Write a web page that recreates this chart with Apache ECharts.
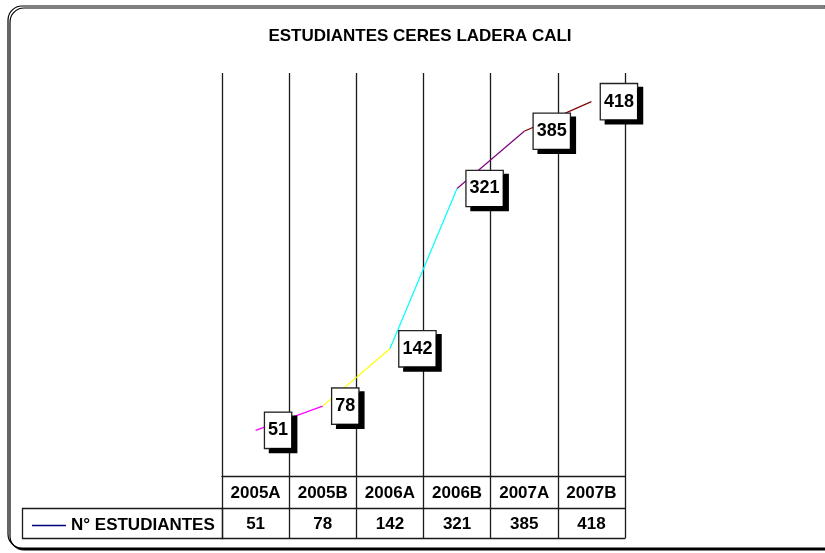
<!DOCTYPE html>
<html>
<head>
<meta charset="utf-8">
<script src="https://cdn.jsdelivr.net/npm/echarts@6/dist/echarts.min.js"></script>
<style>
  html, body { margin: 0; padding: 0; background: #fff; }
  #chart { width: 825px; height: 553px; }
</style>
</head>
<body>
<div id="chart"></div>
<script>
// datos
var categories = ['2005A', '2005B', '2006A', '2006B', '2007A', '2007B'];
var estudiantes = [51, 78, 142, 321, 385, 418];
var segmentColors = ['#ff00ff', '#ffff00', '#00ffff', '#800080', '#800000'];
var seriesName = 'N° ESTUDIANTES';

var FONT = 'Liberation Sans, Arial, sans-serif';
var LINE = { color: '#1a1a1a', width: 1.3 };

var chart = echarts.init(document.getElementById('chart'));

// un tramo por cada par de puntos, con su propio color
var segments = segmentColors.map(function (color, i) {
  var data = estudiantes.map(function (v, j) {
    return (j === i || j === i + 1) ? v : null;
  });
  return {
    type: 'line',
    data: data,
    symbol: 'none',
    silent: true,
    connectNulls: false,
    lineStyle: { color: color, width: 1.2 },
    z: 2
  };
});

var option = {
  animation: false,
  title: {
    text: 'ESTUDIANTES CERES LADERA CALI',
    left: 415,
    top: 23,
    textAlign: 'center',
    textStyle: { fontFamily: FONT, fontSize: 17, fontWeight: 'bold', color: '#000' }
  },
  legend: {
    data: [{ name: seriesName, itemStyle: { color: '#000080', opacity: 1 } }],
    left: 27,
    top: 512,
    icon: 'rect',
    itemWidth: 34,
    itemHeight: 1.5,
    textStyle: { fontFamily: FONT, fontSize: 17, fontWeight: 'bold', color: '#000' }
  },
  graphic: [
    {
      type: 'rect',
      z: -10,
      shape: { x: 8, y: 6, width: 830, height: 542, r: 14 },
      style: { fill: '#fff', stroke: '#000', lineWidth: 1.2, shadowColor: '#000', shadowOffsetX: 2, shadowOffsetY: 2, shadowBlur: 0 }
    },
    {
      type: 'rect',
      z: 5,
      shape: { x: 22.5, y: 508.5, width: 200, height: 30 },
      style: { fill: 'none', stroke: LINE.color, lineWidth: LINE.width }
    }
  ],
  grid: { left: 222, right: 200, top: 73, bottom: 77 },
  xAxis: [
    {
      type: 'category',
      data: categories,
      boundaryGap: true,
      position: 'bottom',
      axisLine: { show: true, lineStyle: LINE },
      axisTick: { show: true, length: 62, lineStyle: LINE },
      axisLabel: { margin: 9, fontFamily: FONT, fontSize: 17, fontWeight: 'bold', color: '#000' },
      splitLine: { show: true, lineStyle: LINE }
    },
    {
      type: 'category',
      data: estudiantes.map(String),
      boundaryGap: true,
      position: 'bottom',
      offset: 32,
      axisLine: { show: true, lineStyle: LINE },
      axisTick: { show: false },
      axisLabel: { margin: 8, fontFamily: FONT, fontSize: 17, fontWeight: 'bold', color: '#000' },
      splitLine: { show: false }
    },
    {
      type: 'category',
      data: categories,
      boundaryGap: true,
      position: 'bottom',
      offset: 62,
      axisLine: { show: true, lineStyle: LINE },
      axisTick: { show: false },
      axisLabel: { show: false },
      splitLine: { show: false }
    }
  ],
  yAxis: {
    type: 'value',
    min: 0,
    max: 450,
    show: false,
    splitLine: { show: false }
  },
  series: segments.concat([{
    name: seriesName,
    type: 'line',
    data: estudiantes,
    symbol: 'circle',
    symbolSize: 1,
    showSymbol: true,
    itemStyle: { color: '#000080', opacity: 0 },
    lineStyle: { color: '#000080', width: 0, opacity: 0 },
    z: 4,
    label: {
      show: true,
      position: 'right',
      distance: 9,
      fontFamily: FONT,
      fontSize: 18,
      fontWeight: 'bold',
      color: '#000',
      opacity: 1,
      backgroundColor: '#fff',
      borderColor: '#222',
      borderWidth: 1.3,
      padding: [9, 3, 8, 3],
      shadowColor: '#000',
      shadowOffsetX: 5,
      shadowOffsetY: 4,
      shadowBlur: 0
    }
  }])
};

chart.setOption(option);
</script>
</body>
</html>
